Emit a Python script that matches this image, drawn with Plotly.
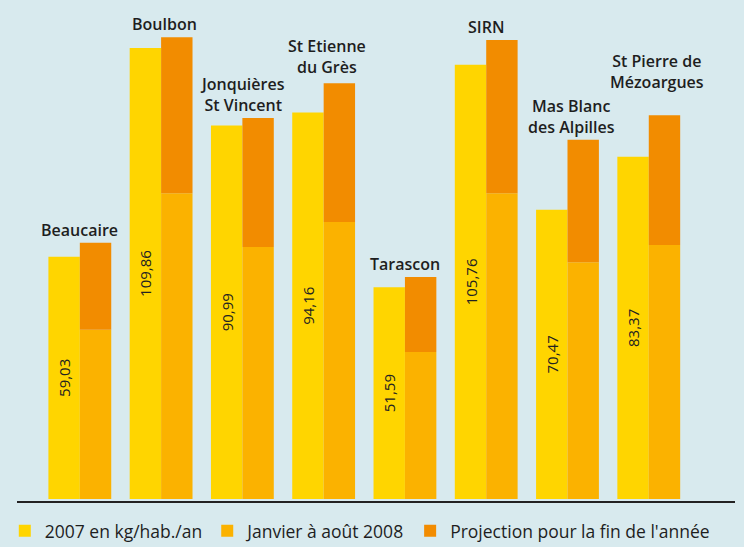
import plotly.graph_objects as go

# ---- data ----
communes = ["Beaucaire", "Boulbon", "Jonquières St Vincent", "St Etienne du Grès",
            "Tarascon", "SIRN", "Mas Blanc des Alpilles", "St Pierre de Mézoargues"]
labels = ["Beaucaire", "Boulbon", "Jonquières<br>St Vincent", "St Etienne<br>du Grès",
          "Tarascon", "SIRN", "Mas Blanc<br>des Alpilles", "St Pierre de<br>Mézoargues"]
val_2007 = [59.03, 109.86, 90.99, 94.16, 51.59, 105.76, 70.47, 83.37]
janv_aout_2008 = [41.2, 74.5, 61.4, 67.5, 35.8, 74.5, 57.7, 61.9]
projection_2008 = [62.4, 112.5, 92.8, 101.3, 54.1, 111.8, 87.5, 93.5]
series_names = ["2007 en kg/hab./an", "Janvier à août 2008", "Projection pour la fin de l'année"]

# ---- styling ----
BG = "#D8EAEE"
C_YELLOW = "#FFD500"
C_JANV = "#FBB200"
C_PROJ = "#F28C00"
FONT = "Open Sans"
LABEL_LIFT = [0, 0, 0, 3, 0, 0, 0, 20]  # extra px above bars, as in the reference layout
LABEL_XSHIFT = [0, 3, 0, 3, 0, 0, 4, 8]
Y_RANGE = [-0.73, 120.34]

fmt = [f"{v:.2f}".replace(".", ",") for v in val_2007]
proj_extra = [p - j for p, j in zip(projection_2008, janv_aout_2008)]

fig = go.Figure()
fig.add_trace(go.Bar(
    x=communes, y=val_2007, name=series_names[0], offsetgroup="a",
    marker=dict(color=C_YELLOW, line=dict(width=0)),
    text=fmt, textposition="inside", textangle=-90, insidetextanchor="middle",
    constraintext="none",
    insidetextfont=dict(family=FONT, size=15, color="#222222"),
))
fig.add_trace(go.Bar(
    x=communes, y=janv_aout_2008, name=series_names[1], offsetgroup="b",
    marker=dict(color=C_JANV, line=dict(width=0)),
))
fig.add_trace(go.Bar(
    x=communes, y=proj_extra, base=janv_aout_2008, name=series_names[2], offsetgroup="b",
    marker=dict(color=C_PROJ, line=dict(width=0)),
))

for c, lab, a, p, lift, xs in zip(communes, labels, val_2007, projection_2008,
                                   LABEL_LIFT, LABEL_XSHIFT):
    fig.add_annotation(
        x=c, y=max(a, p), text=lab, showarrow=False,
        yanchor="bottom", xanchor="center", yshift=lift, xshift=xs,
        font=dict(family=FONT, size=16, color="#1E1E1E", weight=600),
        align="center",
    )

# baseline across the whole plotting width
fig.add_shape(type="line", xref="paper", yref="paper", x0=0, x1=1, y0=0, y1=0,
              line=dict(color="#222222", width=2))

fig.update_layout(
    width=744, height=547,
    paper_bgcolor=BG, plot_bgcolor=BG,
    margin=dict(l=17, r=9, t=5, b=45, autoexpand=False),
    barmode="group", bargap=0.227, bargroupgap=0,
    showlegend=True,
    legend=dict(
        orientation="h", x=-0.017, xanchor="left", y=-0.058, yanchor="middle",
        font=dict(family=FONT, size=17.5, color="#1E1E1E"),
        bgcolor="rgba(0,0,0,0)", traceorder="normal",
    ),
    xaxis=dict(
        range=[-0.773, 8.061], showticklabels=False, ticks="",
        showgrid=False, zeroline=False, showline=False,
    ),
    yaxis=dict(
        range=Y_RANGE, visible=False, showgrid=False, zeroline=False,
    ),
    font=dict(family=FONT),
)

fig.write_html("out.html", config={"displayModeBar": False},
               post_script="document.body.style.margin='0';")
